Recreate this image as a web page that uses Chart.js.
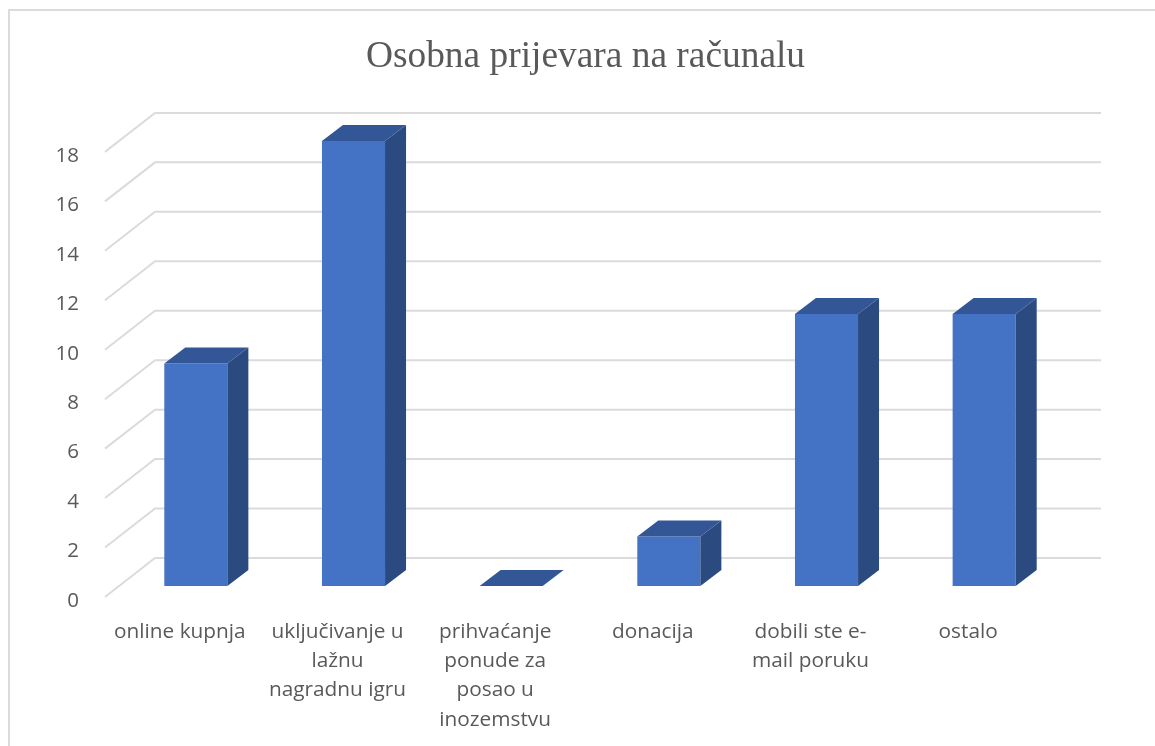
<!DOCTYPE html>
<html>
<head>
<meta charset="utf-8">
<style>html,body{margin:0;padding:0;background:#fff}canvas{display:block}</style>
<script src="https://cdn.jsdelivr.net/npm/chart.js@4"></script>
</head>
<body>
<canvas id="c" width="1155" height="746"></canvas>
<script>
const chartTitle = "Osobna prijevara na računalu";
const categories = [
  ["online kupnja"],
  ["uključivanje u", "lažnu", "nagradnu igru"],
  ["prihvaćanje", "ponude za", "posao u", "inozemstvu"],
  ["donacija"],
  ["dobili ste e-", "mail poruku"],
  ["ostalo"]
];
const values = [9, 18, 0, 2, 11, 11];
const frontColor = "#4472C4", sideColor = "#2A4A80", topColor = "#335796", gridColor = "#DBDBDB", textColor = "#595959";
const DX = 21, DY = 16, WALL_DX = 38, WALL_DY = 28, FLOOR_FX = -12, FLOOR_FY = 11, WALL_RIGHT = 1101;

const box3d = {
  id: "box3d",
  afterLayout(chart) { chart.titleBlock.left = 108; },
  beforeDraw(chart) {
    const c = chart.ctx;
    c.save();
    c.strokeStyle = gridColor; c.lineWidth = 2;
    c.beginPath(); c.moveTo(9, 746); c.lineTo(9, 10); c.lineTo(1155, 10); c.stroke();
    c.restore();
  },
  beforeDatasetsDraw(chart) {
    const c = chart.ctx, y = chart.scales.y, x0 = chart.chartArea.left;
    c.save();
    c.strokeStyle = gridColor; c.lineWidth = 2;
    y.ticks.forEach(t => {
      const p = y.getPixelForValue(t.value);
      c.beginPath();
      c.moveTo(x0 + FLOOR_FX, p + FLOOR_FY);
      c.lineTo(x0 + WALL_DX, p - WALL_DY);
      c.lineTo(WALL_RIGHT, p - WALL_DY);
      c.stroke();
    });
    c.restore();
  },
  afterDatasetsDraw(chart) {
    const c = chart.ctx, meta = chart.getDatasetMeta(0), yb = chart.scales.y.getPixelForValue(0);
    c.save();
    meta.data.forEach(b => {
      const w = b.width / 2, l = b.x - w, r = b.x + w, t = b.y;
      c.fillStyle = sideColor;
      c.beginPath(); c.moveTo(r, t); c.lineTo(r + DX, t - DY); c.lineTo(r + DX, yb - DY); c.lineTo(r, yb); c.closePath();
      if (yb - t > 0.5) c.fill();
      c.fillStyle = topColor;
      c.beginPath(); c.moveTo(l, t); c.lineTo(l + DX, t - DY); c.lineTo(r + DX, t - DY); c.lineTo(r, t); c.closePath(); c.fill();
    });
    c.restore();
  }
};

new Chart(document.getElementById("c"), {
  type: "bar",
  data: { labels: categories, datasets: [{ data: values, backgroundColor: frontColor, borderWidth: 0, barPercentage: 0.4, categoryPercentage: 1 }] },
  plugins: [box3d],
  options: {
    responsive: false,
    animation: false,
    layout: { padding: { right: 92, left: 0, top: 0, bottom: 0 } },
    plugins: {
      legend: { display: false },
      tooltip: { enabled: false },
      title: { display: true, text: chartTitle, color: textColor, font: { family: "'Liberation Serif'", size: 37.4, weight: "normal", lineHeight: 1.2 }, padding: { top: 35, bottom: 61 } }
    },
    scales: {
      x: {
        afterFit(s) { s.height = 160; },
        grid: { display: false }, border: { display: false },
        ticks: { autoSkip: false, maxRotation: 0, minRotation: 0, labelOffset: -16, padding: 23, color: textColor, font: { family: "'Open Sans'", size: 20.8, lineHeight: 1.41 } }
      },
      y: {
        min: 0, max: 18,
        afterFit(s) { s.width = 117; },
        grid: { display: false }, border: { display: false },
        ticks: { stepSize: 2, labelOffset: 15, padding: 30, color: textColor, font: { family: "'Open Sans'", size: 20.5 } }
      }
    }
  }
});
</script>
</body>
</html>
